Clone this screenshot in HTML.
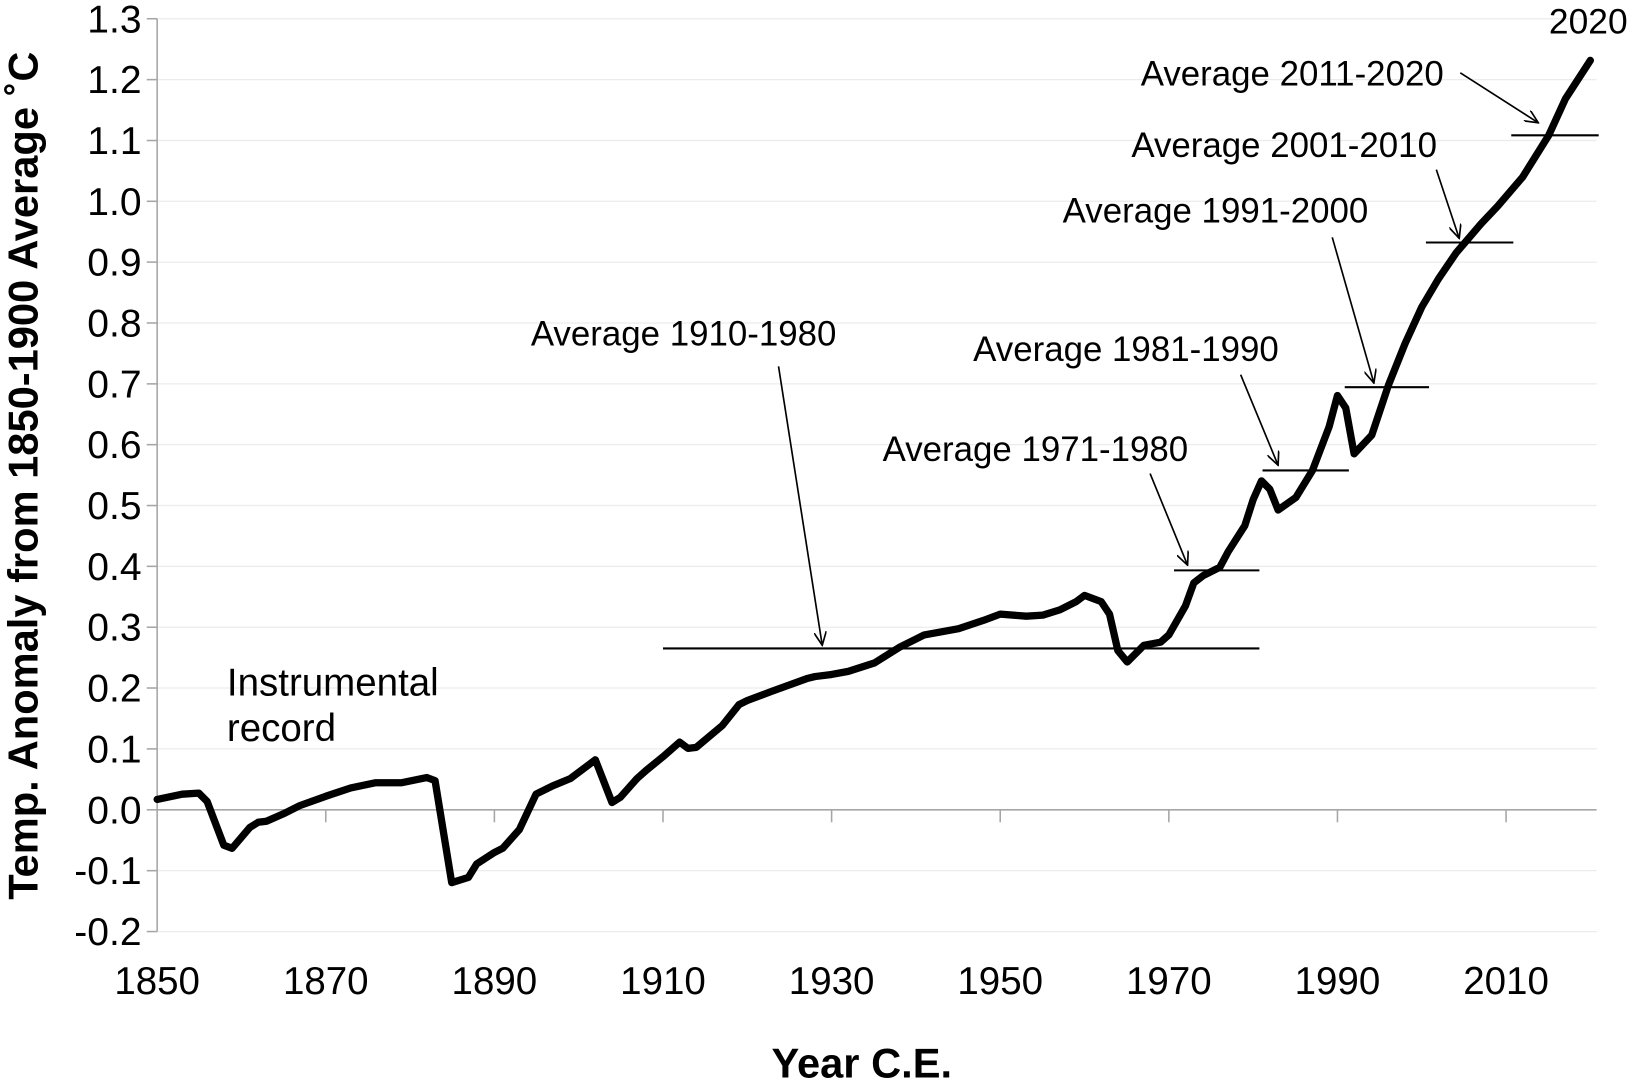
<!DOCTYPE html>
<html><head><meta charset="utf-8"><style>html,body{margin:0;padding:0;background:#fff}svg{display:block}</style></head><body>
<svg width="1632" height="1080" viewBox="0 0 1568 1037.6" preserveAspectRatio="none" xmlns="http://www.w3.org/2000/svg" font-family="Liberation Sans, Arial, sans-serif">
<defs><marker id="ah" markerWidth="14" markerHeight="12" refX="13" refY="6" orient="auto" markerUnits="userSpaceOnUse"><path d="M0,0 L13,6 L0,12" fill="none" stroke="#000" stroke-width="1.6"/></marker></defs>
<g stroke="#ececec" stroke-width="1.2">
<line x1="151" y1="18" x2="1534" y2="18"/><line x1="151" y1="76.5" x2="1534" y2="76.5"/><line x1="151" y1="135" x2="1534" y2="135"/><line x1="151" y1="193.4" x2="1534" y2="193.4"/><line x1="151" y1="251.8" x2="1534" y2="251.8"/><line x1="151" y1="310.3" x2="1534" y2="310.3"/><line x1="151" y1="368.8" x2="1534" y2="368.8"/><line x1="151" y1="427.2" x2="1534" y2="427.2"/><line x1="151" y1="485.7" x2="1534" y2="485.7"/><line x1="151" y1="544.1" x2="1534" y2="544.1"/><line x1="151" y1="602.6" x2="1534" y2="602.6"/><line x1="151" y1="661" x2="1534" y2="661"/><line x1="151" y1="719.5" x2="1534" y2="719.5"/><line x1="151" y1="836.5" x2="1534" y2="836.5"/><line x1="151" y1="895" x2="1534" y2="895"/>
</g>
<g stroke="#a6a6a6" stroke-width="1.5">
<line x1="151" y1="18" x2="151" y2="895"/><line x1="151" y1="778" x2="1534" y2="778"/>
<line x1="141" y1="18" x2="151" y2="18"/><line x1="141" y1="76.5" x2="151" y2="76.5"/><line x1="141" y1="135" x2="151" y2="135"/><line x1="141" y1="193.4" x2="151" y2="193.4"/><line x1="141" y1="251.8" x2="151" y2="251.8"/><line x1="141" y1="310.3" x2="151" y2="310.3"/><line x1="141" y1="368.8" x2="151" y2="368.8"/><line x1="141" y1="427.2" x2="151" y2="427.2"/><line x1="141" y1="485.7" x2="151" y2="485.7"/><line x1="141" y1="544.1" x2="151" y2="544.1"/><line x1="141" y1="602.6" x2="151" y2="602.6"/><line x1="141" y1="661" x2="151" y2="661"/><line x1="141" y1="719.5" x2="151" y2="719.5"/><line x1="141" y1="778" x2="151" y2="778"/><line x1="141" y1="836.5" x2="151" y2="836.5"/><line x1="141" y1="895" x2="151" y2="895"/>
<line x1="313" y1="778" x2="313" y2="790"/><line x1="475" y1="778" x2="475" y2="790"/><line x1="637" y1="778" x2="637" y2="790"/><line x1="799" y1="778" x2="799" y2="790"/><line x1="961" y1="778" x2="961" y2="790"/><line x1="1123" y1="778" x2="1123" y2="790"/><line x1="1285" y1="778" x2="1285" y2="790"/><line x1="1447" y1="778" x2="1447" y2="790"/>
</g>
<g font-size="37.5" text-anchor="end" fill="#000">
<text x="136" y="31">1.3</text><text x="136" y="89.5">1.2</text><text x="136" y="148">1.1</text><text x="136" y="206.4">1.0</text><text x="136" y="264.8">0.9</text><text x="136" y="323.3">0.8</text><text x="136" y="381.8">0.7</text><text x="136" y="440.2">0.6</text><text x="136" y="498.7">0.5</text><text x="136" y="557.1">0.4</text><text x="136" y="615.6">0.3</text><text x="136" y="674">0.2</text><text x="136" y="732.5">0.1</text><text x="136" y="791">0.0</text><text x="136" y="849.5">-0.1</text><text x="136" y="908">-0.2</text>
</g>
<g font-size="37" text-anchor="middle">
<text x="151" y="955">1850</text><text x="313" y="955">1870</text><text x="475" y="955">1890</text><text x="637" y="955">1910</text><text x="799" y="955">1930</text><text x="961" y="955">1950</text><text x="1123" y="955">1970</text><text x="1285" y="955">1990</text><text x="1447" y="955">2010</text>
</g>
<text x="828" y="1035" font-size="40" font-weight="bold" text-anchor="middle">Year C.E.</text>
<text transform="translate(36,457) rotate(-90)" font-size="40" font-weight="bold" text-anchor="middle">Temp. Anomaly from 1850-1900 Average ˚C</text>
<text x="218" y="668" font-size="37">Instrumental</text><text x="218" y="712" font-size="37">record</text>
<text x="1526" y="32" font-size="34" text-anchor="middle">2020</text>
<g stroke="#000" stroke-width="2">
<line x1="637" y1="623" x2="1210" y2="623"/><line x1="1128" y1="548" x2="1210" y2="548"/><line x1="1213" y1="452" x2="1296" y2="452"/><line x1="1292" y1="372" x2="1373" y2="372"/><line x1="1370" y1="233" x2="1454" y2="233"/><line x1="1452" y1="130" x2="1536" y2="130"/>
</g>
<g stroke="#000" stroke-width="1.6" marker-end="url(#ah)">
<line x1="748" y1="352" x2="790" y2="620"/><line x1="1105" y1="455" x2="1141" y2="543"/><line x1="1192" y1="360" x2="1228" y2="447"/><line x1="1280" y1="228" x2="1320" y2="368"/><line x1="1380" y1="163" x2="1402" y2="229"/><line x1="1403" y1="70" x2="1478" y2="118"/>
</g>
<g font-size="33.5">
<text x="510" y="332">Average 1910-1980</text><text x="848" y="443">Average 1971-1980</text><text x="935" y="347">Average 1981-1990</text><text x="1021" y="214">Average 1991-2000</text><text x="1087" y="151">Average 2001-2010</text><text x="1096" y="82">Average 2011-2020</text>
</g>
<polyline fill="none" stroke="#000" stroke-width="7" stroke-linejoin="round" stroke-linecap="round" points="151,768 175,763 191,762 199,770 215,812 223,815 240,795 248,790 256,789 272,782 288,774 313,765 337,757 361,752 386,752 410,747 418,750 434,848 450,843 458,830 475,819 483,815 499,797 515,763 531,755 548,748 556,742 572,730 588,771 596,766 612,748 621,740 637,727 653,713 661,719 669,718 694,697 710,677 718,673 742,664 775,652 783,650 799,648 815,645 840,637 864,622 888,610 921,604 945,596 961,590 986,592 1002,591 1018,586 1034,578 1042,572 1058,578 1066,590 1074,625 1083,636 1099,620 1115,617 1123,610 1139,582 1147,560 1156,553 1172,545 1180,530 1196,505 1204,480 1212,462 1220,470 1228,490 1245,478 1261,452 1277,410 1285,380 1293,392 1301,436 1318,418 1334,370 1350,330 1366,295 1382,268 1399,243 1423,215 1439,198 1463,170 1488,130 1504,95 1528,58"/>
</svg>
</body></html>
